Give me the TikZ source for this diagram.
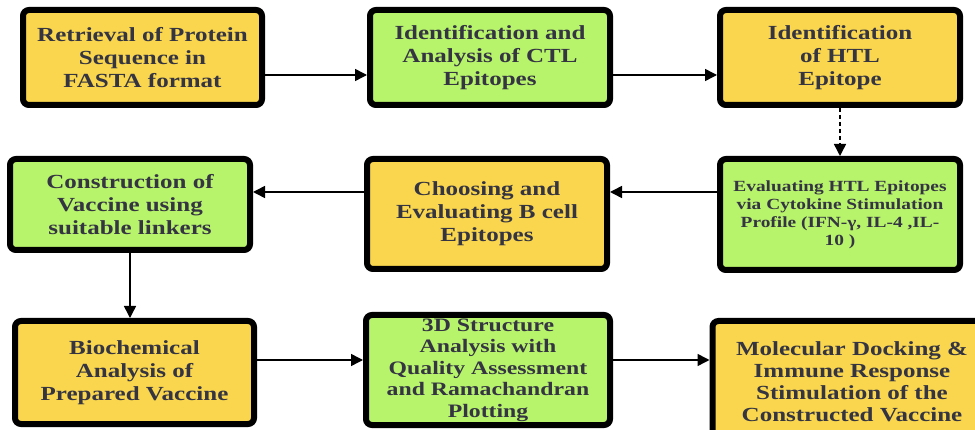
\documentclass[tikz,border=0pt]{standalone}
\usepackage{fontspec}
\setmainfont{Liberation Serif}[FakeStretch=1.25]
\usetikzlibrary{arrows.meta}

\definecolor{boxgelb}{RGB}{249,214,78}
\definecolor{boxgruen}{RGB}{184,243,108}
\definecolor{schrift}{RGB}{52,52,66}

\begin{document}
\begin{tikzpicture}[x=1pt,y=1pt,
  kasten/.style={draw=black,line width=6pt,rounded corners=6pt,outer sep=3pt,
    align=center,text=schrift,inner sep=0pt,minimum width=240,
    font=\bfseries\fontsize{20}{23}\selectfont},
  gelb/.style={kasten,fill=boxgelb},
  gruen/.style={kasten,fill=boxgruen},
  pfeil/.style={-{Triangle[length=12pt,width=12pt]},line width=1.5pt}]
%
% Rahmen des Bildes
\clip (0,0) rectangle (975,-430);
%
% --- Zeile 1 ---
\node[gelb,minimum width=239,minimum height=95] (fasta) at (142.5,-57.5)
  {Retrieval of Protein\\ Sequence in\\ FASTA format};
\node[gruen,minimum height=95] (ctl) at (490,-57.5)
  {Identification and\\ Analysis of CTL\\ Epitopes};
\node[gelb,minimum height=95] (htl) at (840,-57.5)
  {Identification\\ of HTL\\ Epitope};
%
% --- Zeile 2 ---
\node[gruen,minimum height=111,font=\bfseries\fontsize{15.5}{18}\selectfont] (zytokin) at (840,-214.5)
  {Evaluating HTL Epitopes\\ via Cytokine Stimulation\\ Profile (IFN-γ, IL-4 ,IL-\\ 10 )};
\node[gelb,minimum height=110] (bzelle) at (487,-214)
  {Choosing and\\ Evaluating B cell\\ Epitopes};
\node[gruen,minimum height=91] (linker) at (130,-204.5)
  {Construction of\\ Vaccine using\\ suitable linkers};
%
% --- Zeile 3 ---
\node[gelb,minimum width=239,minimum height=103] (biochem) at (134.5,-372.5)
  {Biochemical\\ Analysis of\\ Prepared Vaccine};
\node[gruen,minimum width=244,minimum height=110,font=\bfseries\fontsize{19}{21.5}\selectfont] (struktur) at (488,-370)
  {3D Structure\\ Analysis with\\ Quality Assessment\\ and Ramachandran\\ Plotting};
\node[gelb,minimum width=279,minimum height=121,font=\bfseries\fontsize{20}{22}\selectfont] (docking) at (852,-381.5)
  {Molecular Docking \&\\ Immune Response\\ Stimulation of the\\ Constructed Vaccine};
%
% Pfeile
\draw[pfeil] ([yshift=-17.5]fasta.east) -- ([yshift=-17.5]ctl.west);
\draw[pfeil] ([yshift=-17.5]ctl.east) -- ([yshift=-17.5]htl.west);
\draw[pfeil,dash pattern=on 4pt off 3pt] (htl.south) -- (zytokin.north);
\draw[pfeil] ([yshift=22.5]zytokin.west) -- ([yshift=22]bzelle.east);
\draw[pfeil] ([yshift=22]bzelle.west) -- ([yshift=12.5]linker.east);
\draw[pfeil] (linker.south) -- (linker.south |- biochem.north);
\draw[pfeil] ([yshift=12.5]biochem.east) -- ([yshift=10]struktur.west);
\draw[pfeil] ([yshift=10]struktur.east) -- ([yshift=21.5]docking.west);
\end{tikzpicture}
\end{document}
